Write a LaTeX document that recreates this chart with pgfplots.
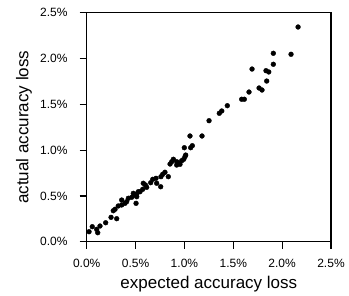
\documentclass[border=0pt]{standalone}
\usepackage{fontspec}
\setmainfont{Liberation Sans}
\usepackage{pgfplots}
\pgfplotsset{compat=1.18}
\begin{document}
\begin{tikzpicture}
\begin{axis}[
  scale only axis,
  width=244.3bp, height=229bp,
  xmin=0, xmax=2.5, ymin=0, ymax=2.5,
  clip=false,
  axis line style={line width=1.2bp, black},
  xtick={0,0.5,1,1.5,2,2.5}, ytick={0,0.5,1,1.5,2,2.5},
  xticklabels={0.0\%,0.5\%,1.0\%,1.5\%,2.0\%,2.5\%},
  yticklabels={0.0\%,0.5\%,1.0\%,1.5\%,2.0\%,2.5\%},
  tick align=outside, major tick length=7bp,
  tick style={line width=1.2bp, black},
  xtick pos=left, ytick pos=left,
  /pgf/number format/assume math mode=true,
  tick label style={font=\fontsize{12bp}{14bp}\selectfont},
  xticklabel style={anchor=base, yshift=-18.6bp},
  yticklabel style={anchor=east, xshift=-8.7bp},
  label style={font=\fontsize{17bp}{20bp}\selectfont},
  xlabel={expected accuracy loss},
  ylabel={actual accuracy loss},
  xlabel style={at={(axis description cs:0.5,0)}, anchor=base, yshift=-46.6bp},
  ylabel style={at={(axis description cs:0,0.5)}, anchor=base, yshift=58.4bp},
]
\addplot[black, line width=1.2bp, mark=none] coordinates {(0,2.5) (2.5,2.5) (2.5,0)};
\addplot[only marks, mark=*, mark size=2.4bp, black] coordinates {
(0.024,0.109) (0.057,0.164) (0.102,0.135) (0.113,0.098) (0.136,0.171)
(0.194,0.207) (0.249,0.266) (0.307,0.251) (0.272,0.338) (0.290,0.354)
(0.323,0.390) (0.358,0.401) (0.358,0.455) (0.392,0.419) (0.409,0.437)
(0.426,0.474) (0.461,0.485) (0.505,0.419) (0.477,0.528) (0.494,0.510)
(0.512,0.491) (0.512,0.521) (0.528,0.546) (0.546,0.546) (0.573,0.572)
(0.579,0.638) (0.614,0.594) (0.600,0.620) (0.655,0.644) (0.676,0.681)
(0.709,0.692) (0.716,0.638) (0.757,0.600) (0.760,0.710) (0.778,0.736)
(0.801,0.758) (0.835,0.710) (0.853,0.848) (0.870,0.873) (0.887,0.900)
(0.921,0.837) (0.921,0.873) (0.938,0.860) (0.955,0.845) (0.972,0.884)
(0.993,0.900) (1.006,0.928) (1.013,0.946) (0.999,1.026) (1.064,1.026)
(1.081,1.048) (1.057,1.154) (1.180,1.154) (1.252,1.321) (1.357,1.402)
(1.382,1.427) (1.439,1.485) (1.586,1.555) (1.613,1.555) (1.661,1.634)
(1.692,1.885) (1.764,1.678) (1.794,1.656) (1.835,1.867) (1.863,1.853)
(1.842,1.754) (1.910,2.057) (1.910,1.937) (2.091,2.046) (2.163,2.344)
};
\end{axis}
\path (-86.7bp,-52.3bp) (262.3bp,241.7bp);
\end{tikzpicture}
\end{document}
